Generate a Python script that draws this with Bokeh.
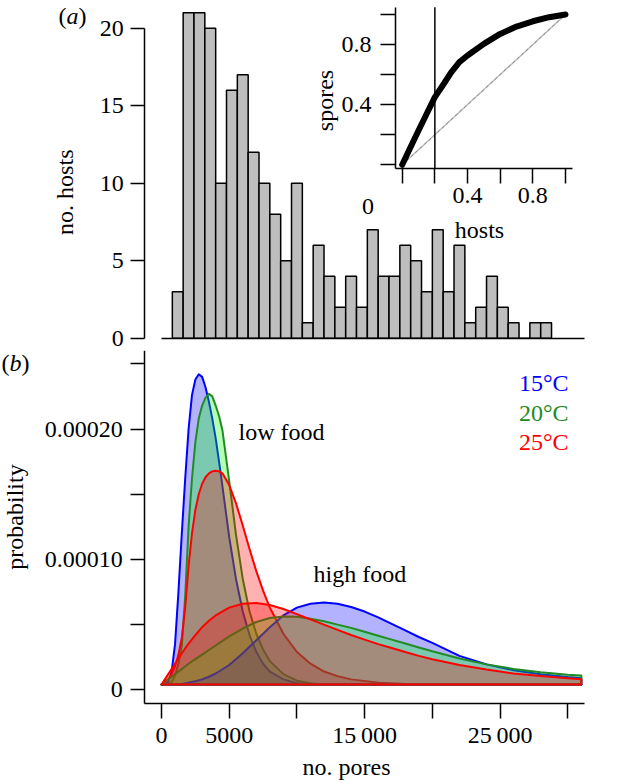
from math import pi
from bokeh.plotting import figure
from bokeh.layouts import column
from bokeh.models import FixedTicker, Label, Range1d, LinearAxis
from bokeh.embed import file_html
from bokeh.resources import INLINE

FONT = "Liberation Serif"
FS = "24px"

# ---------------- data: panel (a) histogram ----------------
hist_bin_start = 800
hist_bin_width = 800
host_counts = [3, 21, 21, 20, 10, 16, 17, 12, 10, 8, 5, 10, 1, 6, 4, 2, 4, 2,
               7, 4, 4, 6, 5, 3, 7, 3, 6, 1, 2, 4, 2, 1, 0, 1, 1]
hist_yticks = [0, 5, 10, 15, 20]

# inset (cumulative proportion of spores vs hosts)
lorenz_hosts = [0, 0.05, 0.1, 0.15, 0.2, 0.255, 0.3, 0.35, 0.4, 0.5, 0.6, 0.7, 0.8, 0.9, 1.0]
lorenz_spores = [0, 0.115, 0.228, 0.34, 0.45, 0.539, 0.615, 0.683, 0.727, 0.805, 0.871,
                 0.92, 0.955, 0.982, 1.0]
equality_x = [0, 1]
equality_y = [0, 1]
threshold_hosts = 0.2
inset_ticks = [0, 0.2, 0.4, 0.6, 0.8, 1.0]
inset_xlabels = {0: "", 0.2: "", 0.4: "0.4", 0.6: "", 0.8: "0.8", 1.0: ""}
inset_ylabels = {0: "", 0.2: "", 0.4: "0.4", 0.6: "", 0.8: "0.8", 1.0: ""}

# ---------------- data: panel (b) densities ----------------
BASE = 4e-6
low_x = [0, 500, 750, 1000, 1250, 1500, 1750, 2000, 2250, 2500, 2750, 3000, 3250, 3500,
         3750, 4000, 4250, 4500, 5000, 5500, 6000, 6500, 7000, 7500, 8000, 9000, 10000,
         11000, 12000, 13000, 14000, 16000, 18000, 20000, 25000, 31000]
low_15 = [4e-6, 6e-6, 1.4e-5, 3.5e-5, 7.5e-5, 1.2e-4, 1.62e-4, 2.0e-4, 2.26e-4, 2.38e-4,
          2.42e-4, 2.40e-4, 2.32e-4, 2.21e-4, 2.08e-4, 1.93e-4, 1.75e-4, 1.56e-4, 1.17e-4,
          8.5e-5, 6.0e-5, 4.2e-5, 2.9e-5, 2.0e-5, 1.4e-5, 8e-6, 5e-6, 4e-6, 4e-6, 4e-6,
          4e-6, 4e-6, 4e-6, 4e-6, 4e-6, 4e-6]
low_20 = [4e-6, 4e-6, 6e-6, 1.1e-5, 2.0e-5, 3.4e-5, 7.2e-5, 1.25e-4, 1.62e-4, 1.90e-4,
          2.08e-4, 2.18e-4, 2.24e-4, 2.27e-4, 2.25e-4, 2.18e-4, 2.10e-4, 1.99e-4, 1.60e-4,
          1.19e-4, 8.5e-5, 6.0e-5, 4.3e-5, 3.1e-5, 2.2e-5, 1.2e-5, 7e-6, 5e-6, 4e-6, 4e-6,
          4e-6, 4e-6, 4e-6, 4e-6, 4e-6, 4e-6]
low_25 = [4e-6, 8e-6, 1.2e-5, 1.8e-5, 2.7e-5, 4.0e-5, 6.3e-5, 9.5e-5, 1.20e-4, 1.38e-4,
          1.50e-4, 1.58e-4, 1.63e-4, 1.66e-4, 1.675e-4, 1.68e-4, 1.675e-4, 1.66e-4, 1.57e-4,
          1.43e-4, 1.26e-4, 1.08e-4, 9.1e-5, 7.6e-5, 6.3e-5, 4.3e-5, 2.9e-5, 2.0e-5, 1.4e-5,
          1.05e-5, 8e-6, 5.5e-6, 4.5e-6, 4e-6, 4e-6, 4e-6]

high_x = [0, 500, 1000, 1500, 2000, 2500, 3000, 3500, 4000, 5000, 6000, 7000, 8000, 9000,
          10000, 11000, 12000, 13000, 14000, 15000, 16000, 17000, 18000, 19000, 20000,
          22000, 24000, 26000, 28000, 30000, 31000]
high_15 = [4e-6, 4e-6, 4e-6, 4.5e-6, 5.5e-6, 6.5e-6, 8e-6, 1.0e-5, 1.25e-5, 1.9e-5, 2.8e-5,
           3.8e-5, 4.8e-5, 5.7e-5, 6.3e-5, 6.6e-5, 6.7e-5, 6.6e-5, 6.35e-5, 6.0e-5, 5.55e-5,
           5.05e-5, 4.55e-5, 4.05e-5, 3.6e-5, 2.6e-5, 1.95e-5, 1.5e-5, 1.2e-5, 9.8e-6, 9e-6]
high_20 = [4e-6, 8e-6, 1.2e-5, 1.6e-5, 2.0e-5, 2.35e-5, 2.7e-5, 3.05e-5, 3.4e-5, 4.1e-5,
           4.7e-5, 5.2e-5, 5.5e-5, 5.62e-5, 5.6e-5, 5.45e-5, 5.25e-5, 5.0e-5, 4.75e-5,
           4.45e-5, 4.15e-5, 3.85e-5, 3.55e-5, 3.25e-5, 2.95e-5, 2.4e-5, 1.95e-5, 1.6e-5,
           1.35e-5, 1.15e-5, 1.1e-5]
high_25 = [4e-6, 1.2e-5, 2.0e-5, 2.8e-5, 3.55e-5, 4.2e-5, 4.8e-5, 5.3e-5, 5.7e-5, 6.3e-5,
           6.6e-5, 6.65e-5, 6.5e-5, 6.2e-5, 5.8e-5, 5.4e-5, 5.0e-5, 4.6e-5, 4.2e-5, 3.85e-5,
           3.5e-5, 3.2e-5, 2.9e-5, 2.6e-5, 2.35e-5, 1.9e-5, 1.55e-5, 1.25e-5, 1.05e-5,
           8.8e-6, 8e-6]

temps = ["15°C", "20°C", "25°C"]
line_colors = ["#0000FF", "#228B22", "#FF0000"]
fill_colors = ["#0000FF", "#00FF00", "#FF0000"]

dens_xticks = [0, 5000, 10000, 15000, 20000, 25000, 30000]
dens_xlabels = {0: "0", 5000: "5000", 10000: "", 15000: "15\u2009000",
                20000: "", 25000: "25\u2009000", 30000: ""}
dens_yticks = [0, 0.00005, 0.0001, 0.00015, 0.0002, 0.00025]
dens_ylabels = {0: "0", 0.00005: "", 0.0001: "0.00010", 0.00015: "",
                0.0002: "0.00020", 0.00025: ""}

# ---------------- view geometry (layout, not data) ----------------
X_VIEW = (-11888, 33892)          # whole canvas width, in no. pores
X_AXIS_AT = -1233                  # where the vertical axes sit
X_BOUNDS = (-1233, 31234)
H_Y_VIEW = (-0.7935, 21.787)
D_Y_VIEW = (-7.032e-5, 2.602e-4)
D_Y_BOUNDS = (-1.028e-5, 2.602e-4)
INSET_XR = (-2.4599, 1.3368)
INSET_YR = (-1.2355, 1.0932)
INSET_XB = (-0.041, 1.041)
INSET_YB = (-0.0266, 1.0486)


def style_axis(ax, tick_out, standoff):
    ax.axis_line_width = 1.5
    ax.axis_line_color = "black"
    ax.major_tick_line_width = 1.5
    ax.major_tick_line_color = "black"
    ax.major_tick_out = tick_out
    ax.major_tick_in = 0
    ax.minor_tick_out = 0
    ax.minor_tick_in = 0
    ax.major_label_standoff = standoff
    ax.major_label_text_font = FONT
    ax.major_label_text_font_size = FS
    ax.major_label_text_color = "black"


def base_fig(**kw):
    p = figure(output_backend="svg", toolbar_location=None, x_axis_location=None,
               y_axis_location=None, min_border=0, min_border_left=0, min_border_right=0,
               min_border_top=0, min_border_bottom=0, **kw)
    p.grid.visible = False
    p.outline_line_color = None
    return p


def txt(p, x, y, s, **kw):
    opts = dict(text_font=FONT, text_font_size=FS, text_color="black")
    opts.update(kw)
    p.add_layout(Label(x=x, y=y, text=s, **opts))


# ---------------- panel (a) ----------------
ph = base_fig(width=620, height=350, x_range=Range1d(*X_VIEW), y_range=Range1d(*H_Y_VIEW))
lefts = [hist_bin_start + i * hist_bin_width for i in range(len(host_counts))]
rights = [l + hist_bin_width for l in lefts]
ph.quad(left=lefts, right=rights, bottom=0, top=host_counts,
        fill_color="#BEBEBE", line_color="black", line_width=1.5)

hy = LinearAxis(fixed_location=X_AXIS_AT, bounds=(0, 20), ticker=FixedTicker(ticks=hist_yticks))
style_axis(hy, 14, 7)
ph.add_layout(hy, "left")
hx = LinearAxis(fixed_location=0, bounds=(0, X_BOUNDS[1]), ticker=FixedTicker(ticks=[]))
style_axis(hx, 0, 0)
hx.major_label_text_font_size = "0px"
ph.add_layout(hx, "below")

txt(ph, -6129, 9.419, "no. hosts", text_align="center", angle=pi / 2)
txt(ph, -7605, 19.968, "(")
txt(ph, -7016, 19.968, "a", text_font_style="italic")
txt(ph, -6129, 19.968, ")")

# ---------------- inset (inside panel a) ----------------
ph.extra_x_ranges = {"ix": Range1d(*INSET_XR)}
ph.extra_y_ranges = {"iy": Range1d(*INSET_YR)}
IN = dict(x_range_name="ix", y_range_name="iy")
ph.line(equality_x, equality_y, line_color="#BBBBBB", line_width=1.5, **IN)
ph.line(equality_x, equality_y, line_color="#888888", line_width=1, line_dash="3 3", **IN)
ph.segment(x0=[threshold_hosts], y0=[INSET_YB[0]], x1=[threshold_hosts], y1=[INSET_YB[1]],
           line_color="black", line_width=1.5, **IN)
ph.line(lorenz_hosts, lorenz_spores, line_color="black", line_width=6,
        line_cap="round", line_join="round", **IN)

ax_ix = LinearAxis(fixed_location=INSET_YB[0], bounds=INSET_XB,
                   ticker=FixedTicker(ticks=inset_ticks),
                   major_label_overrides=inset_xlabels, **IN)
style_axis(ax_ix, 15, 4)
ph.add_layout(ax_ix, "below")
ax_iy = LinearAxis(fixed_location=INSET_XB[0], bounds=INSET_YB,
                   ticker=FixedTicker(ticks=inset_ticks),
                   major_label_overrides=inset_ylabels, **IN)
style_axis(ax_iy, 15, 9)
ph.add_layout(ax_iy, "left")
LB = dict(text_font=FONT, text_font_size=FS, text_color="black", **IN)
ph.add_layout(Label(x=-0.2094, y=-0.3273, text="0", text_align="center", **LB))
ph.add_layout(Label(x=0.4734, y=-0.5183, text="hosts", text_align="center", **LB))
ph.add_layout(Label(x=-0.395, y=0.4278, text="spores", text_align="center", angle=pi / 2, **LB))

# ---------------- panel (b) ----------------
pd_ = base_fig(width=620, height=431, x_range=Range1d(*X_VIEW), y_range=Range1d(*D_Y_VIEW))

curves = [(low_x, low_15, 0), (low_x, low_20, 1), (low_x, low_25, 2),
          (high_x, high_15, 0), (high_x, high_20, 1), (high_x, high_25, 2)]
for xs, ys, k in curves:
    px = list(xs) + [xs[-1], xs[0]]
    py = list(ys) + [BASE, BASE]
    pd_.patch(px, py, fill_color=fill_colors[k], fill_alpha=0.3,
              line_color=line_colors[k], line_width=2, line_join="round")

dx = LinearAxis(fixed_location=D_Y_BOUNDS[0], bounds=X_BOUNDS,
                ticker=FixedTicker(ticks=dens_xticks), major_label_overrides=dens_xlabels)
style_axis(dx, 15, 4)
pd_.add_layout(dx, "below")
dy = LinearAxis(fixed_location=X_AXIS_AT, bounds=D_Y_BOUNDS,
                ticker=FixedTicker(ticks=dens_yticks), major_label_overrides=dens_ylabels)
style_axis(dy, 14, 8)
pd_.add_layout(dy, "left")

txt(pd_, 13660, -6.933e-5, "no. pores", text_align="center")
txt(pd_, -9880, 1.3252e-4, "probability", text_align="center", angle=pi / 2)

txt(pd_, 5686, 1.8773e-4, "low food")
txt(pd_, 11224, 7.906e-5, "high food")
legend_y = [2.2554e-4, 2.0253e-4, 1.8029e-4]
for t, c, yy in zip(temps, line_colors, legend_y):
    txt(pd_, 30052, yy, t, text_color=c, text_align="right")

txt(pd_, -11814, 2.405e-4, "(")
txt(pd_, -11223, 2.405e-4, "b", text_font_style="italic")
txt(pd_, -10337, 2.405e-4, ")")

layout = column(ph, pd_, spacing=0)

open("out.html", "w").write(file_html(layout, INLINE))
